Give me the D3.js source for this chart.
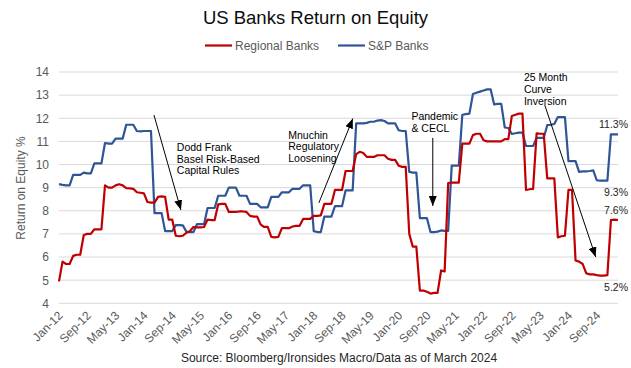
<!DOCTYPE html>
<html>
<head>
<meta charset="utf-8">
<script src="https://cdn.jsdelivr.net/npm/d3@7"></script>
<style>
  html, body { margin: 0; padding: 0; background: #fff; }
  svg { display: block; font-family: "Liberation Sans", Arial, sans-serif; }
</style>
</head>
<body>
<svg id="chart" width="631" height="368"></svg>
<script>
// ---------------- DATA ----------------
const startMonth = new Date(2012, 0, 1);   // Jan-12, monthly through Mar-25
const regionalBanks = [
  4.95, 5.8, 5.7, 5.7, 6.05, 6.1, 6.1, 6.95, 7.0, 7.0,
  7.2, 7.2, 7.2, 9.1, 9.0, 9.0, 9.1, 9.15, 9.1, 8.98,
  8.97, 8.95, 8.8, 8.78, 8.75, 8.38, 8.35, 8.35, 8.6, 8.62,
  8.6, 7.62, 7.62, 6.92, 6.9, 6.92, 7.05, 7.12, 7.3, 7.28,
  7.28, 7.3, 7.62, 7.6, 7.6, 8.28, 8.3, 8.3, 7.95, 7.95,
  7.95, 7.97, 7.97, 7.95, 7.78, 7.75, 7.75, 7.4, 7.3, 7.3,
  6.87, 6.85, 6.87, 7.25, 7.25, 7.25, 7.32, 7.35, 7.35, 7.65,
  7.65, 7.65, 7.78, 7.78, 7.8, 8.3, 8.3, 8.3, 8.9, 8.9,
  8.9, 9.72, 9.72, 9.72, 10.45, 10.55, 10.5, 10.33, 10.33, 10.33,
  10.4, 10.4, 10.4, 10.25, 10.2, 10.2, 9.95, 9.9, 9.9, 7.0,
  6.45, 6.45, 4.55, 4.55, 4.5, 4.42, 4.45, 4.45, 5.42, 5.38,
  9.2, 9.22, 9.22, 9.22, 10.9, 10.9, 10.9, 11.27, 11.33, 11.33,
  11.05, 11.0, 11.0, 11.0, 11.0, 11.0, 11.1, 11.1, 12.1, 12.15,
  12.2, 12.2, 8.9, 8.93, 8.95, 11.35, 11.33, 11.33, 9.4, 9.4,
  9.4, 6.85, 6.9, 6.92, 8.9, 8.9, 5.85, 5.8, 5.7, 5.3,
  5.25, 5.25, 5.22, 5.2, 5.2, 5.22, 7.6, 7.62, 7.6
];
const spBanks = [
  9.15, 9.12, 9.1, 9.1, 9.55, 9.55, 9.55, 9.65, 9.62, 9.62,
  10.05, 10.05, 10.05, 10.93, 10.9, 10.9, 11.12, 11.12, 11.12, 11.72,
  11.72, 11.72, 11.45, 11.43, 11.45, 11.45, 11.45, 7.9, 7.9, 7.9,
  7.12, 7.12, 7.12, 7.38, 7.38, 7.37, 7.1, 7.08, 7.08, 7.42,
  7.42, 7.42, 8.12, 8.12, 8.12, 8.65, 8.65, 8.65, 9.0, 9.0,
  9.0, 8.65, 8.65, 8.65, 8.3, 8.3, 8.3, 8.15, 8.15, 8.15,
  8.6, 8.6, 8.6, 8.8, 8.8, 8.8, 8.95, 8.95, 8.95, 9.1,
  9.1, 9.1, 7.12, 7.08, 7.08, 7.75, 7.75, 7.75, 8.2, 8.2,
  8.2, 8.88, 8.88, 8.88, 11.78, 11.78, 11.78, 11.8, 11.85, 11.85,
  11.9, 11.92, 11.88, 11.78, 11.78, 11.78, 11.48, 11.45, 11.45, 9.68,
  9.65, 9.65, 7.68, 7.68, 7.68, 7.08, 7.08, 7.1, 7.15, 7.13,
  7.13, 9.95, 9.95, 9.95, 12.15, 12.18, 12.2, 13.05, 13.1, 13.15,
  13.2, 13.25, 13.25, 12.6, 12.62, 12.62, 11.6, 11.58, 11.32, 11.35,
  11.38, 11.38, 10.8, 10.8, 10.8, 11.15, 11.15, 11.15, 11.7, 11.72,
  11.75, 12.05, 12.05, 12.05, 10.15, 10.15, 10.15, 9.68, 9.7, 9.7,
  9.72, 9.75, 9.32, 9.3, 9.3, 9.3, 11.3, 11.3, 11.3
];
const xTickLabels = ["Jan-12","Sep-12","May-13","Jan-14","Sep-14","May-15","Jan-16","Sep-16",
  "May-17","Jan-18","Sep-18","May-19","Jan-20","Sep-20","May-21","Jan-22","Sep-22",
  "May-23","Jan-24","Sep-24"];
const yTicks = [4, 5, 6, 7, 8, 9, 10, 11, 12, 13, 14];
const seriesNames = ["Regional Banks", "S&P Banks"];
const endLabels = ["11.3%", "9.3%", "7.6%", "5.2%"];
const endLabelValues = [11.3, 9.3, 7.6, 5.2];
// annotation text anchors: [monthIndex (fractional), value]
const annotationTexts = [
  ["Dodd Frank", "Basel Risk-Based", "Capital Rules"],
  ["Mnuchin", "Regulatory", "Loosening"],
  ["Pandemic", "& CECL"],
  ["25 Month", "Curve", "Inversion"]
];
const annotationAt = [[33.3, 10.58], [64.8, 11.12], [99.6, 11.92], [131.4, 13.59]];
// arrows: [fromIndex, fromValue, toIndex, toValue]
const arrows = [
  [26.84, 12.14, 34.46, 8.03],
  [73.45, 8.34, 83.05, 11.99],
  [105.65, 11.15, 105.65, 8.21],
  [137.3, 12.57, 151.7, 6.0]
];

// ---------------- CHART ----------------
const months = d3.timeMonth.range(startMonth, d3.timeMonth.offset(startMonth, regionalBanks.length));

const svg = d3.select("#chart");
const pLeft = 59, pRight = 618, pTop = 72, pBottom = 303.3;

const x = d3.scalePoint().domain(d3.range(months.length)).range([pLeft, pRight]);
const xi = i => pLeft + i * x.step();
const y = d3.scaleLinear().domain([4, 14]).range([pBottom, pTop]);

const red = "#c00000", blue = "#2f5597", grid = "#d9d9d9", axisText = "#595959";
const FF = "'Liberation Sans', Arial, sans-serif";

// gridlines
svg.append("g").selectAll("line").data(yTicks).join("line")
  .attr("x1", pLeft).attr("x2", pRight)
  .attr("y1", d => y(d)).attr("y2", d => y(d))
  .attr("stroke", grid).attr("stroke-width", 1);

// y axis
const yAxis = svg.append("g").attr("transform", `translate(${pLeft - 10},0)`)
  .call(d3.axisLeft(y).tickValues(yTicks).tickSize(0).tickPadding(0));
yAxis.select(".domain").remove();
yAxis.selectAll("text").attr("fill", axisText).style("font-size", "12px").style("font-family", FF);

// x axis
const tickIdx = xTickLabels.map((_, k) => k * 8);
const xAxis = svg.append("g").attr("transform", `translate(0,${pBottom})`)
  .call(d3.axisBottom(x).tickValues(tickIdx).tickSize(0)
    .tickFormat((d, k) => xTickLabels[k]));
xAxis.select(".domain").remove();
xAxis.selectAll("text")
  .attr("fill", axisText).style("font-size", "12px").style("font-family", FF)
  .attr("text-anchor", "end")
  .attr("dy", null).attr("y", null)
  .attr("transform", "translate(4,13) rotate(-45)");

// y-axis title
svg.append("text")
  .attr("transform", `translate(25,188) rotate(-90)`)
  .attr("text-anchor", "middle")
  .attr("fill", axisText).style("font-size", "12px")
  .text("Return on Equity %");

// lines
const line = d3.line().x((d, i) => x(i)).y(d => y(d));
svg.append("path").datum(spBanks).attr("d", line)
  .attr("fill", "none").attr("stroke", blue).attr("stroke-width", 2.2)
  .attr("stroke-linejoin", "round");
svg.append("path").datum(regionalBanks).attr("d", line)
  .attr("fill", "none").attr("stroke", red).attr("stroke-width", 2.2)
  .attr("stroke-linejoin", "round");

// title
svg.append("text").attr("x", 315.5).attr("y", 24).attr("text-anchor", "middle")
  .attr("fill", "#0d0d0d").style("font-size", "18.5px").text("US Banks Return on Equity");

// legend
const legendItems = [
  { name: seriesNames[0], color: red, x0: 205 },
  { name: seriesNames[1], color: blue, x0: 338 }
];
const lg = svg.append("g");
legendItems.forEach(it => {
  lg.append("line").attr("x1", it.x0).attr("x2", it.x0 + 27)
    .attr("y1", 45.5).attr("y2", 45.5).attr("stroke", it.color).attr("stroke-width", 2.2);
  lg.append("text").attr("x", it.x0 + 30).attr("y", 49.8)
    .attr("fill", axisText).style("font-size", "12px").text(it.name);
});

// arrow marker
svg.append("defs").append("marker")
  .attr("id", "ah").attr("markerUnits", "userSpaceOnUse")
  .attr("viewBox", "0 0 10 8").attr("refX", 10).attr("refY", 4)
  .attr("markerWidth", 10).attr("markerHeight", 8).attr("orient", "auto")
  .append("path").attr("d", "M0,0 L10,4 L0,8 Z").attr("fill", "#000");

arrows.forEach(a => {
  svg.append("line")
    .attr("x1", xi(a[0])).attr("y1", y(a[1]))
    .attr("x2", xi(a[2])).attr("y2", y(a[3]))
    .attr("stroke", "#000").attr("stroke-width", 1)
    .attr("marker-end", "url(#ah)");
});

// annotation texts
annotationTexts.forEach((lines, j) => {
  const [ai, av] = annotationAt[j];
  const t = svg.append("text").attr("fill", "#000").style("font-size", "10.5px");
  lines.forEach((ln, k) => {
    t.append("tspan").attr("x", xi(ai)).attr("y", y(av) + k * 11.6).text(ln);
  });
});

// end labels
endLabels.forEach((lab, k) => {
  const v = endLabelValues[k];
  const up = (k === 0 || k === 2);
  svg.append("text").attr("x", 628).attr("text-anchor", "end")
    .attr("y", y(v) + (up ? -6 : 15))
    .attr("fill", "#262626").style("font-size", "10.5px").text(lab);
});

// source
svg.append("text").attr("x", 339).attr("y", 362).attr("text-anchor", "middle")
  .attr("fill", "#262626").style("font-size", "12px")
  .text("Source: Bloomberg/Ironsides Macro/Data as of March 2024");
</script>
</body>
</html>
